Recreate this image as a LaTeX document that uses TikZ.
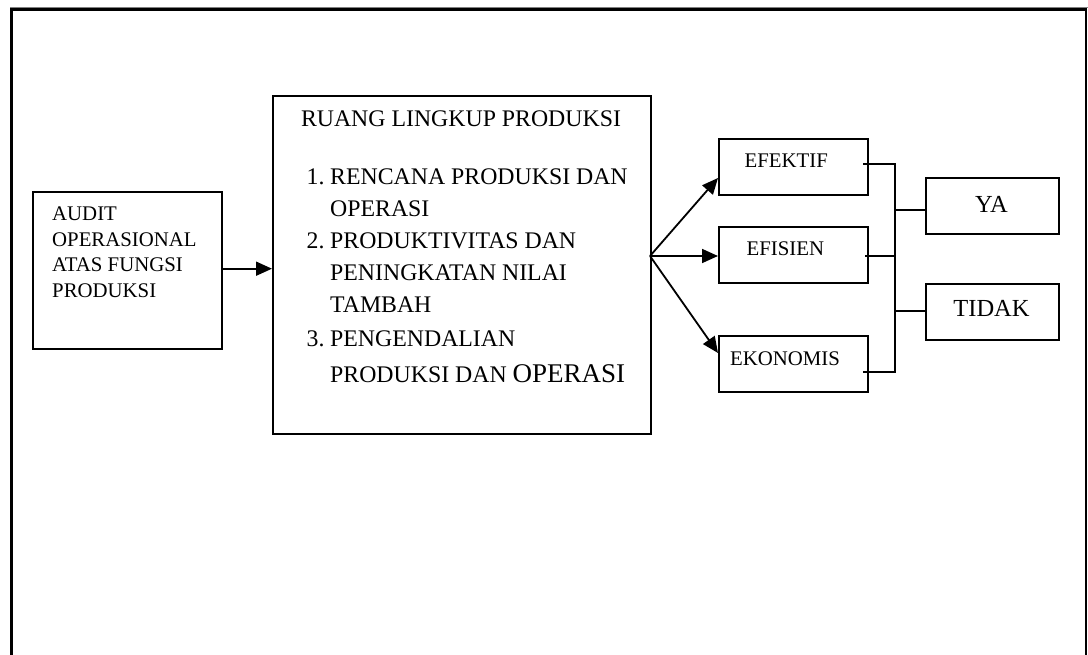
\documentclass[tikz,border=0pt]{standalone}
\usepackage{fontspec}
\setmainfont{Liberation Serif}
\usetikzlibrary{arrows.meta}
\newcommand{\fsz}[1]{\fontsize{#1}{#1}\selectfont}
\tikzset{
  box/.style={draw, line width=1.8pt, inner sep=0pt, anchor=north west},
  txt/.style={inner sep=0pt, anchor=base west},
  conn/.style={line width=1.8pt},
  arr/.style={line width=1.8pt, -{Triangle[length=16pt,width=14pt]}},
  frame/.style={line width=2.2pt}
}
\begin{document}
\begin{tikzpicture}[x=1pt,y=-1pt]
\clip (0,0) rectangle (1088,655);
\fill[white] (0,0) rectangle (1088,655);
% outer frame (open at the bottom)
\draw[gray, line width=1pt] (10,700) -- (10,8) -- (1087.5,8);
\draw[frame] (11.5,700) -- (11.5,9.5) -- (1086,9.5) -- (1086,700);

% boxes
\node[box, minimum width=189pt, minimum height=157pt] (audit) at (32,191) {};
\node[box, minimum width=378pt, minimum height=338pt] (main) at (272,95) {};
\node[box, minimum width=149pt, minimum height=56pt] (efektif) at (718,138) {};
\node[box, minimum width=149pt, minimum height=56pt] (efisien) at (718,226) {};
\node[box, minimum width=149pt, minimum height=56pt] (ekonomis) at (718,335) {};
\node[box, minimum width=133pt, minimum height=56pt] (ya) at (925,177) {};
\node[box, minimum width=133pt, minimum height=56pt] (tidak) at (925,283) {};

% audit text
\node[txt] (a1) at (52,221) {\fsz{20.8}AUDIT};
\node[txt] (a2) at (52,246.5) {\fsz{20.8}OPERASIONAL};
\node[txt] (a3) at (52,272) {\fsz{20.8}ATAS FUNGSI};
\node[txt] (a4) at (52,297.5) {\fsz{20.8}PRODUKSI};

% main box text
\node[inner sep=0pt, anchor=base] (title) at (461,126.7) {\fsz{23.8}RUANG LINGKUP PRODUKSI};
\node[txt] (n1) at (306.5,185) {\fsz{23.8}1.};
\node[txt] (l1) at (330,185) {\fsz{23.8}RENCANA PRODUKSI DAN};
\node[txt] (l2) at (330,216.7) {\fsz{23.8}OPERASI};
\node[txt] (n2) at (306.5,249) {\fsz{23.8}2.};
\node[txt] (l3) at (330,249) {\fsz{23.8}PRODUKTIVITAS DAN};
\node[txt] (l4) at (330,280.5) {\fsz{23.8}PENINGKATAN NILAI};
\node[txt] (l5) at (330,312.7) {\fsz{23.8}TAMBAH};
\node[txt] (n3) at (306.5,347) {\fsz{23.8}3.};
\node[txt] (l6) at (330,347) {\fsz{23.8}PENGENDALIAN};
\node[txt] (l7) at (330,382.7) {\fsz{23.8}PRODUKSI DAN {\fsz{27}OPERASI}};

% criteria text
\node[txt] (t1) at (744.5,167.3) {\fsz{20.8}EFEKTIF};
\node[txt] (t2) at (746.5,256) {\fsz{20.8}EFISIEN};
\node[txt] (t3) at (730,365) {\fsz{20.8}EKONOMIS};
\node[inner sep=0pt, anchor=base] (t4) at (991.5,212.5) {\fsz{24.5}YA};
\node[inner sep=0pt, anchor=base] (t5) at (991.5,317) {\fsz{24.5}TIDAK};

% arrows
\coordinate (fan) at (650,256);
\draw[arr] (audit.east |- 0,268.7) -- (main.west |- 0,268.7);
\draw[arr] (fan) -- (718,178);
\draw[arr] (fan) -- (efisien.west |- fan);
\draw[arr] (fan) -- (718,353);

% connectors to YA / TIDAK
\coordinate (bus) at (895,164);
\coordinate (busb) at (895,372);
\draw[conn] (863,164) -- (bus) -- (busb) -- (863,372);
\draw[conn] (865,256) -- (bus |- 0,256);
\draw[conn] (bus |- 0,210) -- (ya.west |- 0,210);
\draw[conn] (bus |- 0,311) -- (tidak.west |- 0,311);
\end{tikzpicture}
\end{document}
